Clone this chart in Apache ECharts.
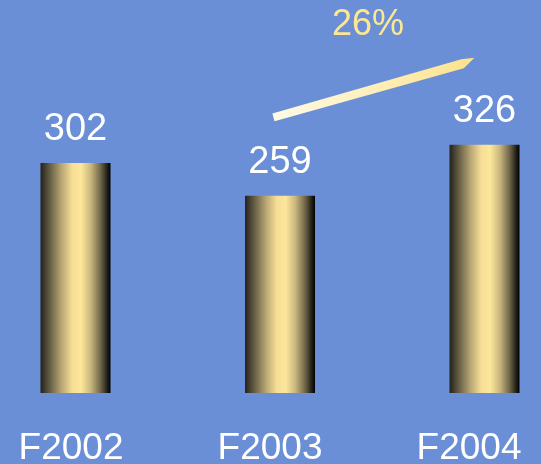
<!DOCTYPE html>
<html>
<head>
<meta charset="utf-8">
<script src="https://cdn.jsdelivr.net/npm/echarts@6/dist/echarts.min.js"></script>
<style>
html,body{margin:0;padding:0;background:#6a8fd6;}
#c{width:541px;height:464px;}
</style>
</head>
<body>
<div id="c"></div>
<script>
const categories = ['F2002', 'F2003', 'F2004'];
const values = [302, 259, 326];
const growthLabel = '26%';
// arrow from (category position, value) to (category position, value)
const arrowFrom = [0.968, 362];
const arrowTo = [1.954, 437];
const growthLabelAt = [1.43, 483];
const labelShift = [9, 20, 31];

const chart = echarts.init(document.getElementById('c'));
const barGrad = new echarts.graphic.LinearGradient(0, 0, 1, 0, [
  {offset: 0, color: '#24211a'},
  {offset: 0.12, color: '#5e5740'},
  {offset: 0.3, color: '#b8a674'},
  {offset: 0.45, color: '#f6dd95'},
  {offset: 0.58, color: '#fde79b'},
  {offset: 0.72, color: '#c9b67e'},
  {offset: 0.86, color: '#6e6548'},
  {offset: 0.95, color: '#242118'},
  {offset: 1, color: '#000000'}
]);
const rich = {};
categories.forEach((c, i) => {
  rich['l' + i] = {fontSize: 37, color: '#ffffff', fontFamily: 'Liberation Sans, Arial, sans-serif', padding: [0, labelShift[i], 0, 0]};
});
chart.setOption({
  backgroundColor: '#6a8fd6',
  animation: false,
  grid: {left: 75.5, right: 56.5, top: 0, bottom: 71, outerBoundsMode: 'none', containLabel: false},
  xAxis: {
    type: 'category',
    data: categories,
    boundaryGap: false,
    axisLine: {show: false},
    axisTick: {show: false},
    axisLabel: {
      margin: 37,
      formatter: (v, i) => '{l' + i + '|' + v + '}',
      rich: rich
    }
  },
  yAxis: {type: 'value', min: 0, max: 516, show: false, splitLine: {show: false}},
  series: [{
    type: 'bar',
    data: values,
    barWidth: 70,
    itemStyle: {color: barGrad},
    label: {
      show: true,
      position: 'top',
      distance: 14,
      color: '#ffffff',
      fontSize: 38,
      fontFamily: 'Liberation Sans, Arial, sans-serif'
    }
  }]
});

function toPx(pos) {
  const p0 = chart.convertToPixel({gridIndex: 0}, [0, pos[1]]);
  const p1 = chart.convertToPixel({gridIndex: 0}, [1, pos[1]]);
  return [p0[0] + (p1[0] - p0[0]) * pos[0], p0[1]];
}
const a = toPx(arrowFrom), b = toPx(arrowTo), t = toPx(growthLabelAt);
const dx = b[0] - a[0], dy = b[1] - a[1], len = Math.hypot(dx, dy);
const ux = dx / len, uy = dy / len, nx = -uy, ny = ux;
const h = 4, tipLen = 13;
const bx = b[0] - ux * tipLen, by = b[1] - uy * tipLen;
const pts = [
  [a[0] + nx * h, a[1] + ny * h],
  [a[0] - nx * h, a[1] - ny * h],
  [bx - nx * (h + 0.6), by - ny * (h + 0.6)],
  [b[0] - nx * 2.5, b[1] - ny * 2.5],
  [bx + nx * (h + 0.6), by + ny * (h + 0.6)]
];
chart.setOption({
  graphic: [
    {
      type: 'polygon',
      shape: {points: pts},
      style: {
        fill: new echarts.graphic.LinearGradient(a[0], 0, b[0], 0, [
          {offset: 0, color: '#fffae6'},
          {offset: 1, color: '#fde28c'}
        ], true)
      }
    },
    {
      type: 'text',
      x: t[0], y: t[1],
      style: {
        text: growthLabel,
        fill: '#fde891',
        font: '36px "Liberation Sans", Arial, sans-serif',
        textAlign: 'center',
        textVerticalAlign: 'middle'
      }
    }
  ]
});
</script>
</body>
</html>
